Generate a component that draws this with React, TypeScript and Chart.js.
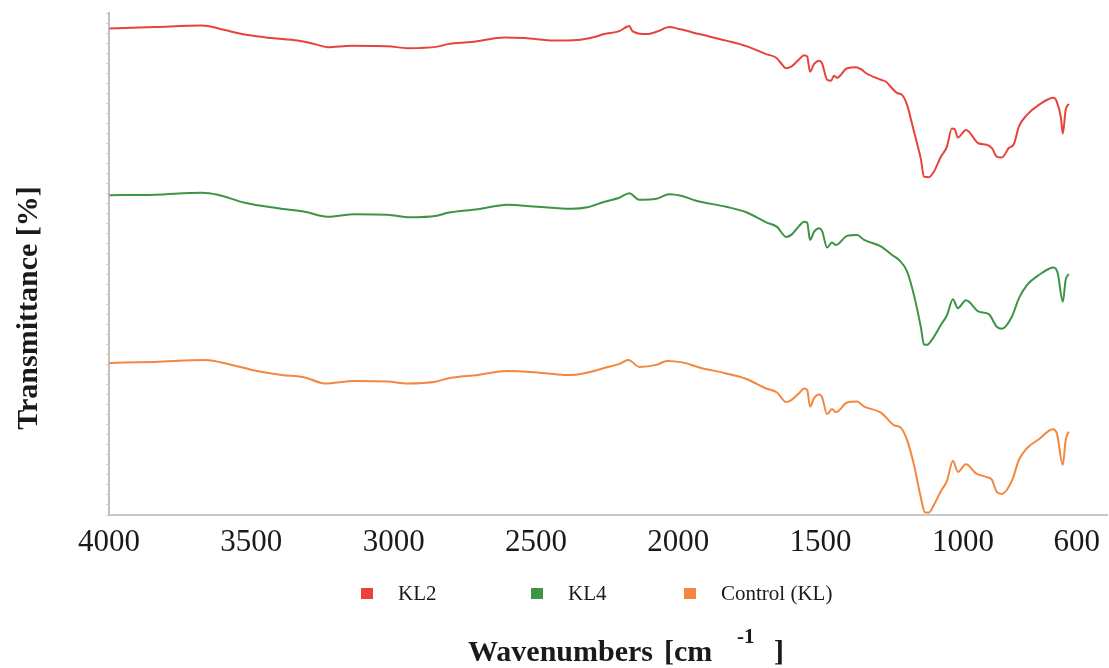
import { useEffect, useRef } from 'react';
import { Chart, registerables } from 'chart.js';

Chart.register(...registerables);

// ---- Data (wavenumber in cm-1, transmittance in arbitrary offset %) ----
const X_TICKS = [4000, 3500, 3000, 2500, 2000, 1500, 1000, 600];

const KL2_WN = [3998, 3839, 3674, 3653, 3593, 3512, 3428, 3337, 3277, 3232, 3147, 3021, 2951, 2846, 2810, 2726, 2610, 2540, 2435, 2354, 2295, 2260, 2207, 2172, 2161, 2112, 2074, 2032, 1996, 1926, 1832, 1761, 1691, 1656, 1639, 1621, 1603, 1575, 1558, 1547, 1537, 1523, 1505, 1495, 1477, 1463, 1453, 1442, 1407, 1375, 1358, 1340, 1288, 1270, 1249, 1232, 1214, 1196, 1179, 1161, 1147, 1137, 1119, 1102, 1077, 1056, 1039, 1028, 1018, 989, 944, 919, 898, 881, 863, 839, 821, 803, 775, 733, 681, 670, 656, 649, 639, 628];
const KL2_T = [96.9, 97.2, 97.5, 97.4, 96.6, 95.6, 95.0, 94.5, 93.8, 93.2, 93.5, 93.4, 93.0, 93.3, 93.8, 94.2, 95.1, 95.0, 94.5, 94.6, 95.2, 95.8, 96.4, 97.4, 96.4, 95.8, 96.3, 97.2, 96.8, 95.8, 94.5, 93.4, 91.8, 91.1, 90.0, 89.0, 89.3, 90.8, 91.6, 91.3, 88.3, 89.8, 90.5, 90.0, 86.7, 86.5, 87.5, 87.1, 89.0, 89.2, 88.8, 88.0, 86.7, 86.3, 85.0, 84.1, 83.7, 81.7, 78.0, 74.0, 70.7, 67.4, 67.3, 68.4, 71.4, 73.4, 77.0, 76.8, 75.2, 76.7, 74.0, 73.8, 73.1, 71.4, 71.2, 73.1, 73.9, 77.4, 79.7, 81.7, 83.1, 82.3, 79.3, 76.0, 80.7, 81.9];

const KL4_WN = [3998, 3839, 3674, 3618, 3523, 3407, 3312, 3232, 3137, 3021, 2944, 2849, 2810, 2705, 2600, 2495, 2375, 2319, 2260, 2207, 2172, 2137, 2077, 2032, 1990, 1937, 1832, 1761, 1691, 1653, 1621, 1603, 1575, 1558, 1547, 1537, 1523, 1505, 1495, 1477, 1460, 1446, 1407, 1372, 1347, 1288, 1249, 1224, 1196, 1172, 1147, 1137, 1126, 1109, 1077, 1056, 1035, 1018, 989, 944, 909, 881, 863, 828, 803, 775, 733, 681, 667, 649, 639, 628];
const KL4_T = [63.7, 63.8, 64.2, 63.8, 62.2, 61.1, 60.4, 59.4, 59.9, 59.8, 59.3, 59.6, 60.2, 60.9, 61.8, 61.4, 61.0, 61.3, 62.4, 63.2, 64.1, 62.8, 63.0, 63.9, 63.6, 62.6, 61.4, 60.3, 58.3, 57.4, 55.4, 55.8, 57.6, 58.4, 58.2, 54.8, 56.4, 57.1, 56.6, 53.3, 54.3, 53.8, 55.6, 55.8, 54.8, 53.5, 51.8, 50.8, 48.5, 43.8, 37.2, 34.0, 33.9, 34.9, 37.9, 39.8, 43.0, 41.2, 42.8, 40.5, 40.0, 37.5, 37.1, 39.5, 43.2, 45.8, 47.8, 49.3, 48.2, 42.5, 46.8, 48.0];

const CONTROL_WN = [3998, 3839, 3663, 3568, 3498, 3393, 3312, 3242, 3137, 3021, 2951, 2849, 2810, 2705, 2600, 2495, 2400, 2354, 2295, 2260, 2207, 2175, 2137, 2077, 2039, 1986, 1926, 1832, 1761, 1691, 1653, 1621, 1603, 1575, 1558, 1547, 1537, 1523, 1505, 1495, 1477, 1460, 1446, 1407, 1372, 1347, 1288, 1242, 1217, 1196, 1172, 1147, 1133, 1119, 1102, 1077, 1056, 1035, 1018, 989, 954, 919, 898, 881, 863, 828, 803, 775, 733, 684, 670, 649, 639, 628];
const CONTROL_T = [30.3, 30.5, 30.9, 29.9, 28.9, 27.9, 27.4, 26.2, 26.7, 26.6, 26.2, 26.6, 27.2, 27.9, 28.7, 28.4, 27.9, 28.0, 28.7, 29.3, 30.1, 30.9, 29.5, 29.9, 30.7, 30.4, 29.4, 28.2, 27.1, 25.2, 24.4, 22.5, 22.9, 24.3, 25.2, 24.9, 21.6, 23.3, 24.0, 23.5, 20.1, 21.1, 20.5, 22.4, 22.6, 21.6, 20.4, 17.9, 17.3, 14.9, 10.0, 3.3, 0.5, 0.5, 2.0, 4.8, 6.8, 10.8, 8.6, 10.1, 8.3, 7.6, 7.0, 4.6, 4.2, 6.8, 11.0, 13.3, 15.1, 17.1, 16.3, 10.0, 14.9, 16.6];

const SERIES_LABELS = ['KL2', 'KL4', 'Control (KL)'];
const SERIES_COLORS = ['#e8423b', '#3c9444', '#f3873f'];

const X_TITLE_PARTS = ['Wavenumbers', '[cm', '-1', ']'];
const Y_TITLE = 'Transmittance [%]';

const SERIF = '"Liberation Serif", "Times New Roman", serif';

const zip = (xs: number[], ys: number[]) =>
  xs.slice(0, Math.min(xs.length, ys.length)).map((x, i) => ({ x, y: ys[i] }));

const decorPlugin = {
  id: 'decor',
  afterDraw(chart: any) {
    const c = chart.ctx as CanvasRenderingContext2D;
    c.save();
    c.fillStyle = '#1a1a1a';

    // Y title
    c.save();
    c.translate(29, 308);
    c.rotate(-Math.PI / 2);
    c.font = `bold 30px ${SERIF}`;
    c.textAlign = 'center';
    c.textBaseline = 'middle';
    c.fillText(Y_TITLE, 0, 0);
    c.restore();

    // X title with superscript
    const mainFont = `bold 30px ${SERIF}`;
    const supFont = `bold 21px ${SERIF}`;
    const base = 661;
    c.textAlign = 'left';
    c.textBaseline = 'alphabetic';
    c.font = mainFont;
    c.fillText(X_TITLE_PARTS[0], 468, base);
    c.fillText(X_TITLE_PARTS[1], 664, base);
    c.font = supFont;
    c.fillText(X_TITLE_PARTS[2], 737, base - 18);
    c.font = mainFont;
    c.fillText(X_TITLE_PARTS[3], 774, base);

    // Legend
    const legendX = [361, 531, 684];
    chart.data.datasets.forEach((ds: any, i: number) => {
      const lx = legendX[i];
      c.fillStyle = ds.borderColor;
      c.fillRect(lx, 588, 12, 11);
      c.fillStyle = '#1a1a1a';
      c.font = `21px ${SERIF}`;
      c.textBaseline = 'middle';
      c.fillText(ds.label, lx + 37, 594);
    });
    c.restore();
  },
};

export default function App() {
  const ref = useRef<HTMLCanvasElement>(null);
  useEffect(() => {
    const canvas = ref.current;
    if (!canvas) return;
    const data = [zip(KL2_WN, KL2_T), zip(KL4_WN, KL4_T), zip(CONTROL_WN, CONTROL_T)];
    const chart = new Chart(canvas, {
      type: 'line',
      data: {
        datasets: data.map((d, i) => ({
          label: SERIES_LABELS[i],
          data: d,
          borderColor: SERIES_COLORS[i],
          backgroundColor: SERIES_COLORS[i],
          borderWidth: 2,
          pointRadius: 0,
          cubicInterpolationMode: 'monotone' as const,
          fill: false,
        })),
      },
      options: {
        responsive: false,
        animation: false,
        devicePixelRatio: 1,
        layout: { padding: { top: 13, right: 0, bottom: 0, left: 0 } },
        plugins: { legend: { display: false }, tooltip: { enabled: false }, title: { display: false } },
        scales: {
          x: {
            type: 'linear',
            reverse: true,
            min: 491,
            max: 4000,
            afterBuildTicks: (s: any) => {
              s.ticks = X_TICKS.map((v) => ({ value: v }));
            },
            afterFit: (s: any) => {
              s.height = 153;
            },
            grid: { display: false, drawTicks: false },
            border: { display: true, color: '#c8c8c8', width: 2 },
            ticks: {
              font: { family: SERIF, size: 31 },
              color: '#1a1a1a',
              padding: 9,
              maxRotation: 0,
              autoSkip: false,
              callback: (v: any) => String(v),
            },
          },
          y: {
            type: 'linear',
            min: 0,
            max: 100,
            afterFit: (s: any) => {
              s.width = 109;
            },
            ticks: { display: false, stepSize: 2, maxTicksLimit: 200 },
            grid: { drawOnChartArea: false, drawTicks: true, tickLength: 3, color: '#d4d4d4' },
            border: { display: true, color: '#c0c0c0', width: 2 },
          },
        },
      },
      plugins: [decorPlugin],
    });
    return () => chart.destroy();
  }, []);
  return (
    <div style={{ position: 'fixed', left: 0, top: 0, width: 1109, height: 668, background: '#fff' }}>
      <canvas ref={ref} width={1109} height={668} style={{ display: 'block' }} />
    </div>
  );
}
